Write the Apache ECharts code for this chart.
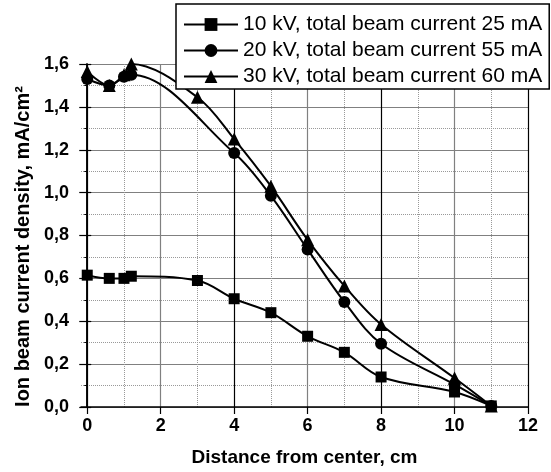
<!DOCTYPE html>
<html>
<head>
<meta charset="utf-8">
<script src="https://cdn.jsdelivr.net/npm/echarts@6/dist/echarts.min.js"></script>
<style>html,body{margin:0;padding:0;background:#fff}#chart{width:551px;height:472px}</style>
</head>
<body>
<div id="chart"></div>
<script>
// tick values
var xMajor = [0, 2, 4, 6, 8, 10, 12];
var xMinor = [1, 3, 5, 7, 9, 11];
var names = ['10 kV, total beam current 25 mA', '20 kV, total beam current 55 mA', '30 kV, total beam current 60 mA'];

// 10 kV
var x10 = [0, 0.6, 1, 1.2, 3, 4, 5, 6, 7, 8, 10, 11];
var y10 = [0.615, 0.60, 0.60, 0.61, 0.59, 0.505, 0.44, 0.33, 0.255, 0.14, 0.07, 0.005];
// 20 kV
var x20 = [0, 0.6, 1, 1.2, 4, 5, 6, 7, 8, 10, 11];
var y20 = [1.53, 1.50, 1.54, 1.55, 1.185, 0.985, 0.735, 0.49, 0.295, 0.105, 0.005];
// 30 kV
var x30 = [0, 0.6, 1, 1.2, 3, 4, 5, 6, 7, 8, 10, 11];
var y30 = [1.565, 1.50, 1.55, 1.60, 1.445, 1.25, 1.03, 0.78, 0.565, 0.385, 0.135, 0.005];

var font = 'Liberation Sans, Arial, sans-serif';

function pairs(xs, ys){
  return xs.map(function(x, i){ return [x, ys[i]] })
}
function mkSeries(name, xs, ys, sym, size){
  return {
    name: name, type: 'line', data: pairs(xs, ys),
    smooth: 0.35, symbol: sym, symbolSize: size,
    itemStyle: {color: '#000'},
    lineStyle: {color: '#000', width: 2}
  }
}

var chart = echarts.init(document.getElementById('chart'));
chart.setOption({
  animation: false,
  backgroundColor: '#fff',
  grid: {left: 81, right: 23, top: 64, bottom: 64.5},
  legend: {
    left: 176, top: 4, orient: 'vertical',
    itemWidth: 54, itemHeight: 16, itemGap: 5,
    padding: [10, 7, 2, 7],
    borderColor: '#000', borderWidth: 1.5, backgroundColor: '#fff',
    textStyle: {fontFamily: font, fontSize: 21, color: '#000'},
    data: names
  },
  xAxis: [{
    type: 'value', min: -0.17, max: 12, position: 'bottom',
    axisLine: {lineStyle: {color: '#000', width: 1.5}},
    axisTick: {length: 7, customValues: xMajor, lineStyle: {color: '#000', width: 1.2}},
    axisLabel: {customValues: xMajor, margin: 10, fontFamily: font, fontSize: 18, fontWeight: 'bold', color: '#000'},
    splitLine: {show: true, lineStyle: {color: ['#000', '#808080'], width: 1.2}},
    name: 'Distance from center, cm', nameLocation: 'middle', nameGap: 41,
    nameTextStyle: {fontFamily: font, fontSize: 19, fontWeight: 'bold', color: '#000'}
  }, {
    type: 'value', min: -0.17, max: 12, position: 'top',
    axisLine: {show: false},
    axisTick: {show: false, customValues: xMinor},
    axisLabel: {show: false, customValues: xMinor},
    splitLine: {show: true, lineStyle: {color: '#999', width: 1, type: [1, 1]}}
  }],
  yAxis: [{
    type: 'value', min: 0, max: 1.6, interval: 0.2, position: 'left',
    axisLine: {show: true, lineStyle: {color: '#000', width: 1.5}},
    axisTick: {show: true, length: 8, lineStyle: {color: '#000', width: 1.2}},
    minorTick: {show: true, splitNumber: 2, length: 3, lineStyle: {color: '#000'}},
    axisLabel: {margin: 12, fontFamily: font, fontSize: 18, fontWeight: 'bold', color: '#000',
      formatter: function(v){ return v.toFixed(1).replace('.', ',') }},
    splitLine: {show: true, lineStyle: {color: '#808080', width: 1.2}},
    minorSplitLine: {show: true, lineStyle: {color: '#999', width: 1, type: [1, 1]}},
    name: 'Ion beam current density, mA/cm\u00b2', nameLocation: 'middle', nameGap: 41,
    nameTextStyle: {fontFamily: font, fontSize: 20, fontWeight: 'bold', color: '#000', padding: [0, 22, 0, 0]}
  }, {
    type: 'value', min: 0, max: 1.6, interval: 0.2, position: 'right',
    axisLine: {show: true, lineStyle: {color: '#000', width: 1.5}},
    axisTick: {show: true, length: 4, lineStyle: {color: '#000', width: 1.2}},
    axisLabel: {show: false},
    splitLine: {show: false}
  }],
  series: [
    mkSeries(names[0], x10, y10, 'rect', 11),
    mkSeries(names[1], x20, y20, 'circle', 12),
    mkSeries(names[2], x30, y30, 'triangle', 13)
  ]
});
</script>
</body>
</html>
